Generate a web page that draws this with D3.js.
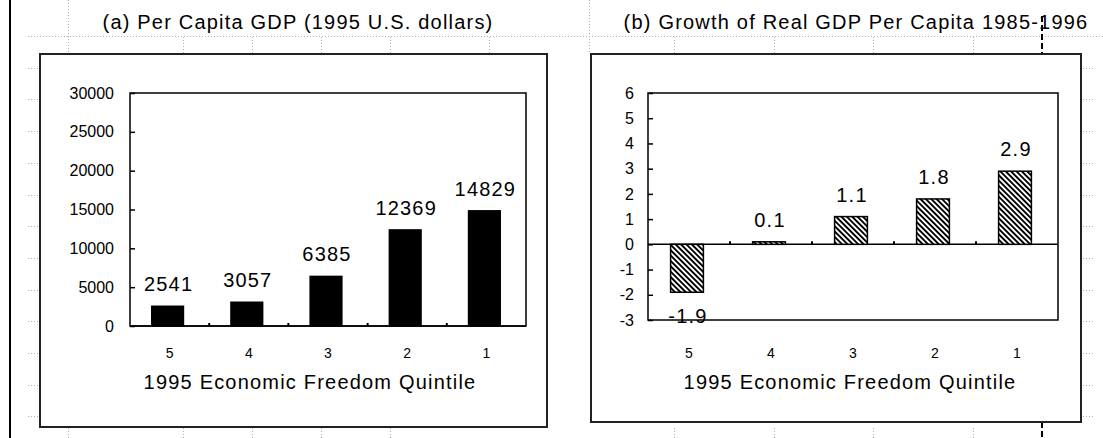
<!DOCTYPE html>
<html>
<head>
<meta charset="utf-8">
<script src="https://cdn.jsdelivr.net/npm/d3@7"></script>
<style>
  body { margin: 0; background: #fff; }
  text { font-family: "Liberation Sans", Arial, sans-serif; fill: #000; }
</style>
</head>
<body>
<div id="chart"></div>
<script>
// Data
//= ================================
var quintiles = ["5", "4", "3", "2", "1"];
var gdpPerCapita = [2541, 3057, 6385, 12369, 14829];
var gdpGrowth = [-1.9, 0.1, 1.1, 1.8, 2.9];
var gdpTicks = [0, 5000, 10000, 15000, 20000, 25000, 30000];
var growthTicks = [-3, -2, -1, 0, 1, 2, 3, 4, 5, 6];
var titleA = "(a) Per Capita GDP (1995 U.S. dollars)";
var titleB = "(b) Growth of Real GDP Per Capita 1985-1996";
var xTitle = "1995 Economic Freedom Quintile";

var width = 1103, height = 438;

var svg = d3.select("#chart")
  .append("svg")
    .attr("width", width)
    .attr("height", height);

// diagonal hatch used by panel (b)
var hatch = svg.append("defs").append("pattern")
    .attr("id", "hatch")
    .attr("patternUnits", "userSpaceOnUse")
    .attr("width", 3.8)
    .attr("height", 3.8)
    .attr("patternTransform", "rotate(-45)");
hatch.append("rect").attr("width", 3.8).attr("height", 3.8).attr("fill", "#fff");
hatch.append("rect").attr("width", 1.9).attr("height", 3.8).attr("fill", "#000");

// spreadsheet gridlines behind the charts
var grid = svg.append("g")
    .attr("stroke", "#b0b0b0")
    .attr("stroke-width", 1)
    .attr("stroke-dasharray", "1,2");
grid.append("line")
    .attr("x1", 28).attr("x2", width)
    .attr("y1", 36.5).attr("y2", 36.5);
[68, 589].forEach(function (c) {
  grid.append("line").attr("x1", c + 0.5).attr("x2", c + 0.5).attr("y1", 0).attr("y2", 54);
});
[183, 252, 321, 390, 489, 674, 774, 873, 973].forEach(function (c) {
  grid.append("line").attr("x1", c + 0.5).attr("x2", c + 0.5).attr("y1", 37).attr("y2", 54);
});
[68, 183, 252, 321, 390, 674, 774, 873, 973].forEach(function (c) {
  grid.append("line").attr("x1", c + 0.5).attr("x2", c + 0.5).attr("y1", 428).attr("y2", height);
});
d3.range(1, 13).forEach(function (k) {
  var gy = Math.round(36 + k * 31.7) + 0.5;
  grid.append("line").attr("x1", 28).attr("x2", 39).attr("y1", gy).attr("y2", gy);
  grid.append("line").attr("x1", 1083).attr("x2", 1093).attr("y1", gy).attr("y2", gy);
});

// page edge and page break
svg.append("rect").attr("x", 9).attr("y", 0).attr("width", 2).attr("height", height).attr("fill", "#000");
[[16, 54], [422, height]].forEach(function (seg) {
  svg.append("line")
      .attr("x1", 1042).attr("x2", 1042)
      .attr("y1", seg[0]).attr("y2", seg[1])
      .attr("stroke", "#000")
      .attr("stroke-width", 2)
      .attr("stroke-dasharray", "6,3");
});

function drawPanel(p) {
  var g = svg.append("g");

  // chart box
  g.append("rect")
      .attr("x", p.box[0]).attr("y", p.box[1])
      .attr("width", p.box[2] - p.box[0]).attr("height", p.box[3] - p.box[1])
      .attr("fill", "#fff")
      .attr("stroke", "#222")
      .attr("stroke-width", 2);

  g.append("text")
      .attr("x", p.titleX).attr("y", 29)
      .attr("text-anchor", "middle")
      .style("font-size", "20px")
      .style("letter-spacing", "1.2px")
      .text(p.title);

  var x = d3.scaleBand()
      .domain(quintiles)
      .range([p.left, p.right]);

  var y = d3.scaleLinear()
      .domain(p.domain)
      .range([p.bottom, p.top]);

  // plot frame
  g.append("rect")
      .attr("x", p.left).attr("y", p.top)
      .attr("width", p.right - p.left).attr("height", p.bottom - p.top)
      .attr("fill", "none")
      .attr("stroke", "#000")
      .attr("stroke-width", 1.5);

  // Y axis, ticks pointing inwards, plain hyphen for negatives
  var yAxis = g.append("g")
      .attr("transform", "translate(" + p.left + ",0)")
      .call(d3.axisLeft(y).tickValues(p.ticks).tickSize(-5).tickPadding(p.yPad).tickFormat(function (d) { return String(d); }));
  yAxis.select(".domain").remove();
  yAxis.selectAll("line").attr("stroke-width", 1.5);
  yAxis.selectAll("text").style("font-size", "16px").attr("font-family", null);

  // category labels below the frame
  var xAxis = g.append("g")
      .attr("transform", "translate(0," + p.bottom + ")")
      .call(d3.axisBottom(x).tickSize(0).tickPadding(p.xPad));
  xAxis.select(".domain").remove();
  xAxis.selectAll("text").style("font-size", "14px").attr("font-family", null);

  var base = y(0);
  var data = quintiles.map(function (q, i) { return {q: q, v: p.values[i]}; });

  // category axis at zero, with small ticks between bands
  g.append("line")
      .attr("x1", p.left).attr("x2", p.right)
      .attr("y1", base).attr("y2", base)
      .attr("stroke", "#000")
      .attr("stroke-width", 1.5);
  g.selectAll(".sep")
    .data(quintiles.slice(1))
    .enter()
    .append("line")
      .attr("x1", function (d) { return x(d); })
      .attr("x2", function (d) { return x(d); })
      .attr("y1", base)
      .attr("y2", base - 3)
      .attr("stroke", "#000")
      .attr("stroke-width", 2);

  var bw = x.bandwidth() * 0.4;
  g.selectAll(".bar")
    .data(data)
    .enter()
    .append("rect")
      .attr("x", function (d) { return x(d.q) + (x.bandwidth() - bw) / 2 - 2; })
      .attr("y", function (d) { return Math.min(y(d.v), base); })
      .attr("width", bw)
      .attr("height", function (d) { return Math.abs(y(d.v) - base); })
      .attr("fill", p.fill)
      .attr("stroke", "#000")
      .attr("stroke-width", 1.5);

  g.selectAll(".val")
    .data(data)
    .enter()
    .append("text")
      .attr("x", function (d) { return x(d.q) + x.bandwidth() / 2 - 1; })
      .attr("y", function (d) { return d.v < 0 ? y(d.v) + 31 : y(d.v) - 15; })
      .attr("text-anchor", "middle")
      .style("font-size", "20px")
      .style("letter-spacing", "1.2px")
      .text(function (d) { return d.v; });

  g.append("text")
      .attr("x", p.xTitleX)
      .attr("y", 389)
      .attr("text-anchor", "middle")
      .style("font-size", "20px")
      .style("letter-spacing", "1.2px")
      .text(xTitle);
}

drawPanel({
  box: [40, 54, 547, 427],
  left: 130, right: 526, top: 93, bottom: 326,
  domain: [0, 30000], ticks: gdpTicks, yPad: 16, xPad: 22,
  values: gdpPerCapita, fill: "#000",
  title: titleA, titleX: 298, xTitleX: 310
});

drawPanel({
  box: [591, 54, 1081, 422],
  left: 648, right: 1058, top: 93, bottom: 320,
  domain: [-3, 6], ticks: growthTicks, yPad: 14, xPad: 28,
  values: gdpGrowth, fill: "url(#hatch)",
  title: titleB, titleX: 856, xTitleX: 850
});
</script>
</body>
</html>
